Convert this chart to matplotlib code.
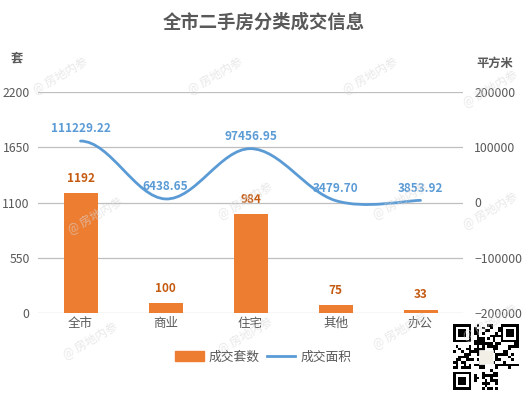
import matplotlib
matplotlib.use("Agg")
import matplotlib.pyplot as plt
from matplotlib.path import Path
from matplotlib.patches import PathPatch, Rectangle
from matplotlib.lines import Line2D
from matplotlib.patches import Patch
import numpy as np

plt.rcParams['font.family'] = ['Noto Sans CJK SC', 'DejaVu Sans']

categories = ['全市', '商业', '住宅', '其他', '办公']
units = [1192, 100, 984, 75, 33]
area = [111229.22, 6438.65, 97456.95, 3479.70, 3853.92]
left_ticks = [0, 550, 1100, 1650, 2200]
right_ticks = [-200000, -100000, 0, 100000, 200000]

bar_color = '#ED7D31'
line_color = '#5B9BD5'
text_gray = '#595959'

fig = plt.figure(figsize=(5.27, 3.93), dpi=100)
ax = fig.add_axes([38/527, 1-313/393, (463-38)/527, (313-92)/393])
ax2 = ax.twinx()

x = np.arange(len(categories))
ax.bar(x, units, width=0.4, color=bar_color, zorder=3)
for xi, v in zip(x, units):
    ax.annotate(str(v), (xi, v), xytext=(0, 6), textcoords='offset points',
                ha='center', va='bottom', fontsize=8.5, fontweight='bold', color='#C55A11')

ax.set_xlim(-0.5, len(categories) - 0.5)
ax.set_ylim(0, 2200)
ax.set_yticks(left_ticks)
ax.set_xticks(x)
ax.set_xticklabels(categories)
ax.grid(axis='y', color='#BFBFBF', lw=0.9, zorder=0)
ax.set_axisbelow(True)

ax2.set_ylim(-200000, 200000)
ax2.set_yticks(right_ticks)

for a in (ax, ax2):
    for s in a.spines.values():
        s.set_visible(False)
    a.tick_params(length=0, labelsize=8.8, colors=text_gray)
ax.tick_params(axis='x', pad=3, labelsize=9)
ax.tick_params(axis='y', pad=6)
ax2.tick_params(axis='y', pad=8)

# smooth line via cubic bezier segments (echarts-like smoothing)
pts = list(zip(x.astype(float), area))
verts = [pts[0]]
codes = [Path.MOVETO]
sm = 0.35
n = len(pts)
for i in range(n - 1):
    p0 = pts[i - 1] if i > 0 else pts[i]
    p1 = pts[i]
    p2 = pts[i + 1]
    p3 = pts[i + 2] if i + 2 < n else pts[i + 1]
    c1 = (p1[0] + sm * (p2[0] - p0[0]) / 2 * (1 if i > 0 else 2),
          p1[1] + sm * (p2[1] - p0[1]) / 2 * (1 if i > 0 else 0))
    c2 = (p2[0] - sm * (p3[0] - p1[0]) / 2,
          p2[1] - sm * (p3[1] - p1[1]) / 2 * (1 if i + 2 < n else 0))
    verts += [c1, c2, p2]
    codes += [Path.CURVE4] * 3
ax2.add_patch(PathPatch(Path(verts, codes), fill=False, edgecolor=line_color,
                        lw=2.0, capstyle='round', zorder=4))
for xi, v in zip(x, area):
    ax2.annotate(f'{v:.2f}', (xi, v), xytext=(0, 4), textcoords='offset points',
                 ha='center', va='bottom', fontsize=8.5, fontweight='bold', color=line_color)

fig.text(0.5, 1-22/393, '全市二手房分类成交信息', ha='center', va='center',
         fontsize=13.2, fontweight='bold', color=text_gray)
fig.text(17/527, 1-58/393, '套', ha='center', va='center', fontsize=8.8,
         fontweight='bold', color=text_gray)
fig.text(495/527, 1-63/393, '平方米', ha='center', va='center', fontsize=8.8,
         fontweight='bold', color=text_gray)

handles = [Patch(color=bar_color, label='成交套数'),
           Line2D([0], [0], color=line_color, lw=2, label='成交面积')]
fig.legend(handles=handles, loc='center', bbox_to_anchor=(0.5, 1-357/393), ncol=2,
           frameon=False, fontsize=9.2, labelcolor=text_gray, handlelength=2.2,
           handleheight=0.8, columnspacing=0.6, handletextpad=0.4)

# watermarks
wm = [(60, 75), (215, 75), (370, 75), (490, 88),
      (95, 215), (245, 200), (400, 200), (490, 210),
      (90, 340), (245, 335), (400, 330), (490, 322)]
for (px, py) in wm:
    fig.text(px/527, 1-py/393, '@ 房地内参', rotation=30, ha='center', va='center',
             fontsize=8.5, color='#D9D9D9', alpha=0.6, zorder=0)

# QR-like badge
qax = fig.add_axes([453/527, 1-390/393, 66/527, 66/393])
qax.set_xlim(0, 25); qax.set_ylim(0, 25); qax.axis('off')
seed_str = '全市二手房分类成交信息房地内参'
bits = []
for ch in seed_str * 6:
    code = ord(ch)
    bits += [(code >> k) & 1 for k in range(12)]
idx = 0
for r in range(25):
    for c in range(25):
        inf = (r < 8 and c < 8) or (r < 8 and c > 16) or (r > 16 and c < 8)
        if inf:
            continue
        if bits[idx % len(bits)]:
            qax.add_patch(Rectangle((c, r), 1, 1, color='black', lw=0))
        idx += 1
for (cx, cy) in [(0, 18), (18, 18), (0, 0)]:
    qax.add_patch(Rectangle((cx, cy), 7, 7, color='black', lw=0))
    qax.add_patch(Rectangle((cx+1, cy+1), 5, 5, color='white', lw=0))
    qax.add_patch(Rectangle((cx+2, cy+2), 3, 3, color='black', lw=0))
qax.add_patch(Rectangle((10, 10), 5, 5, facecolor='#F2EFE6', edgecolor='white', lw=0.5))

fig.savefig('out.png', dpi=100)
